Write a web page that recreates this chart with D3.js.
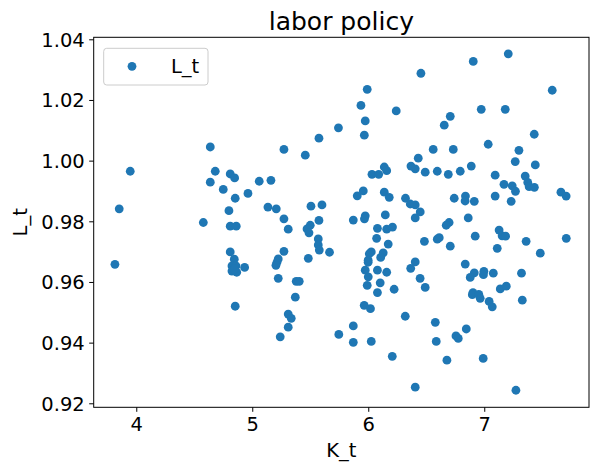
<!DOCTYPE html>
<html>
<head>
<meta charset="utf-8">
<script src="https://cdn.jsdelivr.net/npm/d3@7"></script>
<style>
  body { margin: 0; background: #fff; }
  text { font-family: "DejaVu Sans", sans-serif; fill: #000; }
</style>
</head>
<body>
<svg id="chart" width="598" height="473"></svg>
<script>
// capital stock values (x)
var K_t = [
  3.853, 3.948, 3.816, 4.638, 4.681, 4.638, 4.810, 4.848, 4.750, 4.853,
  4.799, 4.963, 5.060, 5.161, 5.273, 5.457, 5.575, 5.743, 5.135, 5.207,
  5.273, 5.506, 5.601, 5.575, 4.578, 4.810, 4.862, 5.310, 5.500, 5.472,
  5.489, 5.569, 5.569, 5.578, 5.666, 5.483, 5.273, 5.224, 5.213, 5.204,
  5.224, 5.379, 5.405, 5.371, 5.310, 5.336, 5.310, 5.241, 5.746, 4.810,
  4.845, 4.825, 4.859, 4.825, 4.866, 4.845, 4.934, 4.853, 5.991, 5.937,
  5.974, 5.966, 6.241, 6.454, 6.905, 7.207, 7.586, 6.974, 7.181, 6.707,
  6.655, 7.431, 7.034, 7.299, 7.267, 7.440, 6.560, 6.733, 6.431, 6.368,
  6.405, 6.491, 6.595, 6.690, 6.793, 6.888, 6.138, 6.159, 6.032, 6.090,
  5.957, 5.905, 6.138, 6.181, 6.321, 6.362, 6.405, 6.448, 6.405, 6.147,
  5.974, 5.967, 5.871, 6.741, 6.838, 6.835, 6.914, 6.862, 6.697, 6.672,
  7.094, 7.094, 7.170, 7.241, 7.269, 7.232, 7.353, 7.375, 7.387, 7.432,
  7.661, 7.706, 6.079, 6.159, 6.209, 6.072, 6.172, 6.026, 6.009, 6.129,
  6.107, 5.999, 5.999, 5.974, 6.079, 6.159, 6.000, 6.103, 5.991, 6.223,
  6.079, 5.965, 6.019, 5.871, 5.871, 6.026, 6.207, 6.405, 6.319, 6.405,
  6.366, 6.447, 6.491, 6.484, 6.595, 6.612, 6.707, 6.922, 6.836, 6.914,
  6.879, 6.997, 6.993, 7.078, 6.903, 6.897, 6.953, 6.965, 7.042, 7.069,
  6.578, 6.586, 6.678, 6.756, 6.776, 6.845, 6.991, 7.273, 7.128, 7.154,
  7.184, 7.112, 7.361, 7.483, 7.707, 7.321, 7.138, 7.190, 7.328
];

// labor values (y)
var L_t = [
  0.9841, 0.9965, 0.9658, 1.0045, 0.9965, 0.9929, 0.9956, 0.9943, 0.9905, 0.9876,
  0.9835, 0.9892, 0.9932, 0.9935, 1.0037, 1.0018, 1.0074, 1.0108, 0.9847, 0.9841,
  0.9808, 0.9850, 0.9854, 0.9803, 0.9796, 0.9784, 0.9784, 0.9774, 0.9787, 0.9775,
  0.9762, 0.9742, 0.9722, 0.9705, 0.9698, 0.9678, 0.9701, 0.9676, 0.9665, 0.9655,
  0.9612, 0.9602, 0.9602, 0.9550, 0.9494, 0.9480, 0.9451, 0.9419, 0.9427, 0.9699,
  0.9675, 0.9653, 0.9653, 0.9636, 0.9632, 0.9642, 0.9648, 0.9520, 1.0235, 1.0182,
  1.0131, 1.0084, 1.0164, 1.0288, 1.0327, 1.0352, 1.0232, 1.0169, 1.0169, 1.0146,
  1.0117, 1.0087, 1.0054, 1.0034, 0.9997, 0.9986, 1.0037, 1.0037, 1.0008, 0.9982,
  0.9973, 0.9962, 0.9965, 0.9955, 0.9965, 0.9982, 0.9979, 0.9967, 0.9955, 0.9955,
  0.9900, 0.9884, 0.9896, 0.9879, 0.9876, 0.9857, 0.9854, 0.9831, 0.9811, 0.9821,
  0.9818, 0.9808, 0.9804, 0.9876, 0.9883, 0.9867, 0.9866, 0.9811, 0.9796, 0.9787,
  0.9952, 0.9883, 0.9922, 0.9917, 0.9899, 0.9866, 0.9949, 0.9928, 0.9914, 0.9912,
  0.9896, 0.9883, 0.9777, 0.9774, 0.9781, 0.9744, 0.9725, 0.9699, 0.9693, 0.9696,
  0.9681, 0.9672, 0.9665, 0.9639, 0.9639, 0.9632, 0.9617, 0.9597, 0.9589, 0.9576,
  0.9565, 0.9523, 0.9512, 0.9455, 0.9401, 0.9404, 0.9355, 0.9253, 0.9487, 0.9666,
  0.9645, 0.9612, 0.9582, 0.9734, 0.9741, 0.9746, 0.9718, 0.9751, 0.9659, 0.9630,
  0.9615, 0.9635, 0.9624, 0.9629, 0.9565, 0.9558, 0.9559, 0.9546, 0.9536, 0.9518,
  0.9467, 0.9404, 0.9342, 0.9422, 0.9414, 0.9445, 0.9348, 0.9243, 0.9771, 0.9752,
  0.9751, 0.9711, 0.9734, 0.9695, 0.9744, 0.9629, 0.9577, 0.9586, 0.9540
];

var xTicks = [4, 5, 6, 7];
var yTicks = [0.92, 0.94, 0.96, 0.98, 1.00, 1.02, 1.04];

var plotL = 93.7, plotR = 589, plotT = 37.3, plotB = 407.3;
var blue = '#1f77b4';
var fs = 19.5;

var svg = d3.select('#chart');

var x = d3.scaleLinear().domain([3.633, 7.903]).range([plotL, plotR]);
var y = d3.scaleLinear().domain([0.91868, 1.04066]).range([plotB, plotT]);

// axes
var xAxis = svg.append('g')
    .attr('transform', 'translate(0,' + plotB + ')')
    .call(d3.axisBottom(x).tickValues(xTicks).tickSize(4.5).tickPadding(4.5)
        .tickFormat(d3.format('d')));
var yAxis = svg.append('g')
    .attr('transform', 'translate(' + plotL + ',0)')
    .call(d3.axisLeft(y).tickValues(yTicks).tickSize(4.5).tickPadding(4.5)
        .tickFormat(d3.format('.2f')));

[xAxis, yAxis].forEach(function(g){
    g.select('.domain').remove();
    g.selectAll('.tick line').attr('stroke', '#000').attr('stroke-width', 1);
    g.selectAll('.tick text').style('font-size', fs + 'px').attr('fill', '#000');
});
xAxis.selectAll('.tick text').attr('dy', null).attr('y', 9).attr('dominant-baseline', 'hanging');
yAxis.selectAll('.tick text').attr('dy', '0.36em');

// points
svg.append('g').selectAll('circle')
    .data(K_t.map(function(k, i){ return [k, L_t[i]]; }))
    .enter().append('circle')
    .attr('cx', function(d){ return x(d[0]); })
    .attr('cy', function(d){ return y(d[1]); })
    .attr('r', 4.4)
    .style('fill', blue);

// frame
svg.append('rect')
    .attr('x', plotL).attr('y', plotT)
    .attr('width', plotR - plotL).attr('height', plotB - plotT)
    .style('fill', 'none').style('stroke', '#000').style('stroke-width', 1);

// labels
svg.append('text')
    .attr('x', (plotL + plotR) / 2).attr('y', 30)
    .attr('text-anchor', 'middle')
    .style('font-size', '25px')
    .text('labor policy');
svg.append('text')
    .attr('x', (plotL + plotR) / 2).attr('y', 457)
    .attr('text-anchor', 'middle')
    .style('font-size', fs + 'px')
    .text('K_t');
svg.append('text')
    .attr('transform', 'translate(27,' + (plotT + plotB) / 2 + ') rotate(-90)')
    .attr('text-anchor', 'middle')
    .style('font-size', fs + 'px')
    .text('L_t');

// legend
var legend = svg.append('g');
legend.append('rect')
    .attr('x', 103.7).attr('y', 48.3)
    .attr('width', 104.3).attr('height', 36.7)
    .attr('rx', 3)
    .style('fill', '#fff').style('fill-opacity', 0.8)
    .style('stroke', '#cccccc').style('stroke-width', 1);
legend.append('circle')
    .attr('cx', 132).attr('cy', 66.3).attr('r', 4.4)
    .style('fill', blue);
legend.append('text')
    .attr('x', 171).attr('y', 73)
    .style('font-size', fs + 'px')
    .text('L_t');
</script>
</body>
</html>
